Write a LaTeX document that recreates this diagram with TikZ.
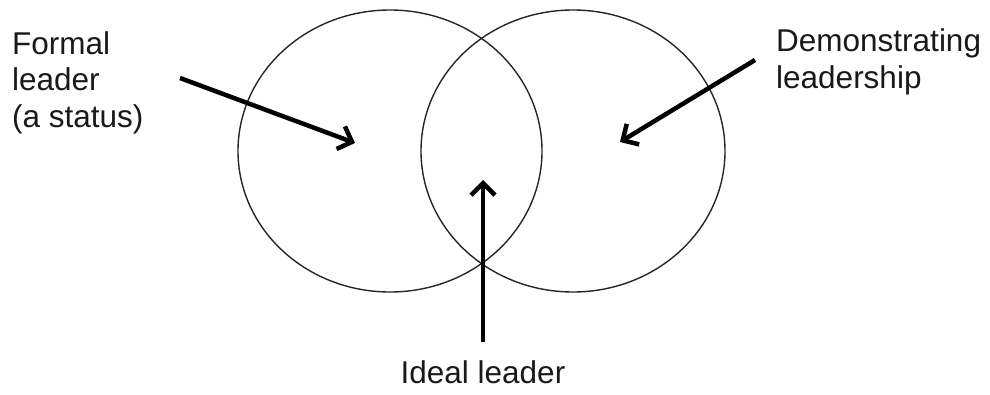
\documentclass[tikz,border=0pt]{standalone}
\usepackage{fontspec}
\setmainfont{Liberation Sans}
\usetikzlibrary{arrows.meta}
\begin{document}
\begin{tikzpicture}[x=1pt,y=-1pt,
  ring/.style={draw=black!85, line width=1.4pt},
  pointer/.style={draw=black, line width=4.5pt, -{Straight Barb[length=12pt,width=24pt,line width=4.5pt]}},
  lbl/.style={font=\fontsize{31.5}{36.5}\selectfont, align=left, inner sep=0pt, text=black!90}]
\useasboundingbox (0,0) rectangle (990,394);
\draw[ring] (390,151) ellipse [x radius=152, y radius=141];
\draw[ring] (573,151) ellipse [x radius=152, y radius=141];
\node[lbl, anchor=base west] (formal) at (12,127) {Formal\\leader\\(a status)};
\node[lbl, anchor=base west] (demo) at (776,88) {Demonstrating\\leadership};
\node[lbl, anchor=base] (ideal) at (483,383) {Ideal leader};
\coordinate (fs) at (180,78);
\coordinate (ft) at (355,143);
\coordinate (ds) at (755,60);
\coordinate (dt) at (620,142);
\coordinate (is) at (483,342);
\coordinate (it) at (483,180);
\draw[pointer] (fs) -- (ft);
\draw[pointer] (ds) -- (dt);
\draw[pointer] (is) -- (it);
\end{tikzpicture}
\end{document}
